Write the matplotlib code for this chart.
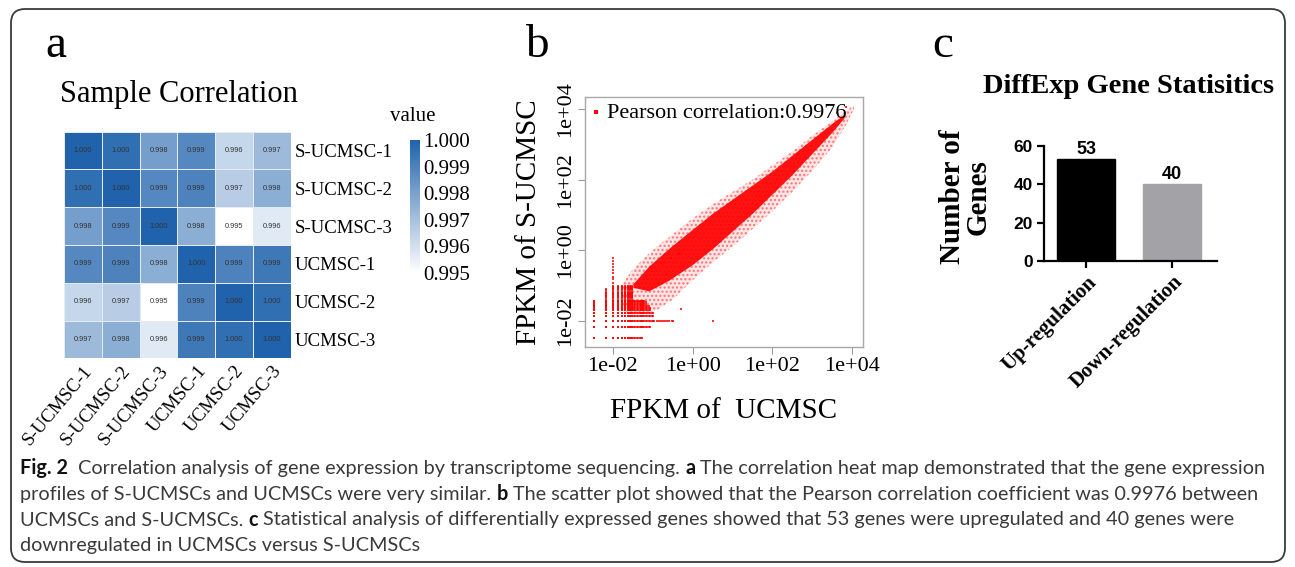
import numpy as np
import matplotlib
matplotlib.use('Agg')
import matplotlib.pyplot as plt
from matplotlib.colors import LinearSegmentedColormap
from matplotlib.patches import FancyBboxPatch
from matplotlib.ticker import FixedLocator, NullLocator
from matplotlib.transforms import ScaledTranslation

W, H = 1295, 567
SERIF = 'Liberation Serif'
SANS = 'Liberation Sans'
CAP_FONT = 'Lato'

#%% data -- panel a (sample correlation)
samples = ['S-UCMSC-1', 'S-UCMSC-2', 'S-UCMSC-3', 'UCMSC-1', 'UCMSC-2', 'UCMSC-3']
corr = np.array([
    [1.0000, 0.9996, 0.9981, 0.9988, 0.9963, 0.9972],
    [0.9996, 1.0000, 0.9988, 0.9990, 0.9966, 0.9976],
    [0.9981, 0.9988, 1.0000, 0.9976, 0.9950, 0.9957],
    [0.9988, 0.9990, 0.9976, 1.0000, 0.9990, 0.9993],
    [0.9963, 0.9966, 0.9950, 0.9990, 1.0000, 0.9996],
    [0.9972, 0.9976, 0.9957, 0.9993, 0.9996, 1.0000],
])
cbar_ticks = [0.995, 0.996, 0.997, 0.998, 0.999, 1.000]

#%% data -- panel b (FPKM scatter)
pearson_r = 0.9976
# quantised low FPKM values seen as the grid in the lower left corner
fpkm_levels = [0.0033, 0.0067, 0.01, 0.0133, 0.0167, 0.02, 0.0233, 0.0267, 0.03,
               0.0333, 0.0367, 0.04, 0.0433, 0.0467, 0.05, 0.0533, 0.0567, 0.06,
               0.0667, 0.0733, 0.08, 0.0867, 0.0933, 0.1]
# (row level on S-UCMSC, farthest UCMSC value on that row)
row_reach = [(0.0033, 0.056), (0.0067, 0.089), (0.01, 0.1), (0.0133, 0.1),
             (0.0167, 0.1), (0.02, 0.093), (0.0233, 0.087), (0.0267, 0.08),
             (0.03, 0.073), (0.0333, 0.067), (0.0367, 0.06)]
# (column level on UCMSC, highest S-UCMSC value in that column)
col_reach = [(0.0033, 0.039), (0.0067, 0.08), (0.01, 0.1), (0.0133, 0.1),
             (0.0167, 0.1), (0.02, 0.1), (0.0233, 0.1), (0.0267, 0.1), (0.03, 0.1)]
row001_tail = [0.11, 0.125, 0.14, 0.16, 0.18, 0.2, 0.23, 0.26, 0.3, 0.33]
col001_tail = [0.12, 0.15, 0.18, 0.22, 0.27, 0.33, 0.4, 0.5, 0.6]
outlier_x = [3.16, 0.52, 6900, 4200, 0.45, 0.28]
outlier_y = [0.01, 0.021, 11500, 7500, 0.8, 0.6]
# envelope of the point cloud, log10 units
fringe_x = [-1.8, -1.5, -1.2, -0.9, -0.5, 0.0, 0.5, 1.0, 1.5, 2.0, 2.5, 3.0, 3.5, 3.85, 4.05]
fringe_hi = [-1.0, -0.55, -0.2, 0.1, 0.45, 0.9, 1.3, 1.65, 2.0, 2.4, 2.8, 3.25, 3.65, 3.95, 4.1]
fringe_lo = [-1.7, -1.8, -1.8, -1.7, -1.4, -0.85, -0.35, 0.1, 0.6, 1.1, 1.65, 2.25, 2.9, 3.55, 4.0]
core_x = [-1.5, -1.1, -0.6, 0.0, 0.5, 1.0, 1.5, 2.0, 2.5, 3.0, 3.5, 3.8]
core_hi = [-0.95, -0.45, 0.05, 0.6, 1.05, 1.45, 1.85, 2.25, 2.7, 3.15, 3.6, 3.85]
core_lo = [-1.05, -1.15, -0.85, -0.4, 0.05, 0.55, 1.05, 1.6, 2.15, 2.75, 3.35, 3.75]
log_ticks = [-2, 0, 2, 4]
log_ticklabels = ['1e-02', '1e+00', '1e+02', '1e+04']

#%% data -- panel c (DEG counts)
groups = ['Up-regulation', 'Down-regulation']
counts = [53, 40]
bar_colors = ['#000000', '#a3a3a7']

caption = [
    [('Fig. 2', 'bold'), ('Correlation analysis of gene expression by transcriptome sequencing.', 'normal'),
     ('a', 'bold'), ('The correlation heat map demonstrated that the gene expression', 'normal')],
    [('profiles of S-UCMSCs and UCMSCs were very similar.', 'normal'), ('b', 'bold'),
     ('The scatter plot showed that the Pearson correlation coefficient was 0.9976 between', 'normal')],
    [('UCMSCs and S-UCMSCs.', 'normal'), ('c', 'bold'),
     ('Statistical analysis of differentially expressed genes showed that 53 genes were upregulated and 40 genes were', 'normal')],
    [('downregulated in UCMSCs versus S-UCMSCs', 'normal')],
]


def fbox(left, top, right, bottom):
    return [left / W, 1 - bottom / H, (right - left) / W, (bottom - top) / H]


fig = plt.figure(figsize=(W / 100, H / 100), dpi=100)
fig.patch.set_facecolor('white')

border = FancyBboxPatch((11 / W, 1 - 562 / H), 1274 / W, 553 / H,
                        boxstyle='round,pad=0,rounding_size=%f' % (14 / W),
                        mutation_aspect=W / H, transform=fig.transFigure,
                        fill=False, ec='#3a3a3a', lw=1.3)
fig.patches.append(border)

# panel letters
for letter, xp in [('a', 45), ('b', 525), ('c', 932)]:
    fig.text(xp / W, 1 - 57 / H, letter, family=SERIF, fontsize=34, va='baseline')

#%% panel a
fig.text(60 / W, 1 - 102 / H, 'Sample Correlation', family=SERIF, fontsize=22, va='baseline')
cmap = LinearSegmentedColormap.from_list('wb', ['#ffffff', '#2063ac'])
ax1 = fig.add_axes(fbox(64.3, 131.7, 290.7, 358.3))
mesh = ax1.pcolormesh(corr, cmap=cmap, vmin=0.995, vmax=1.0, edgecolors='#e4ebf3', linewidth=0.6)
ax1.set_xlim(0, 6)
ax1.set_ylim(6, 0)
for i in range(len(samples)):
    for j in range(len(samples)):
        ax1.text(j + 0.5, i + 0.5, '%.3f' % corr[i, j], ha='center', va='center',
                 fontsize=5.3, family=SANS, color='#333333')
ax1.set_xticks(np.arange(len(samples)) + 0.5)
ax1.set_xticklabels(samples, rotation=50, ha='right', rotation_mode='anchor', family=SERIF, fontsize=13.5)
shift = ScaledTranslation(0.05, 0, fig.dpi_scale_trans)
for lab in ax1.get_xticklabels():
    lab.set_transform(lab.get_transform() + shift)
ax1.set_yticks(np.arange(len(samples)) + 0.5)
ax1.set_yticklabels(samples, family=SERIF, fontsize=13.5)
ax1.yaxis.tick_right()
ax1.tick_params(length=0, pad=3)
for s in ax1.spines.values():
    s.set_visible(False)

cax = fig.add_axes(fbox(410, 140, 420, 273))
cb = fig.colorbar(mesh, cax=cax, ticks=cbar_ticks)
cb.outline.set_visible(False)
cb.ax.set_yticklabels(['%.3f' % t for t in cbar_ticks], family=SERIF, fontsize=15)
cb.ax.tick_params(length=0, pad=2)
fig.text(413 / W, 1 - 121 / H, 'value', family=SERIF, fontsize=15, ha='center', va='baseline')

#%% panel b
ax2 = fig.add_axes(fbox(585, 97, 863, 347))
ax2.set_xscale('log')
ax2.set_yscale('log')
red = '#ff0000'
plt.rcParams['hatch.linewidth'] = 1.1
ax2.fill_between(10 ** np.array(fringe_x), 10 ** np.array(fringe_lo), 10 ** np.array(fringe_hi),
                 facecolor=(1, 0, 0, 0.1), edgecolor=(1, 0, 0, 0.45), hatch='....', lw=0)
ax2.fill_between(10 ** np.array(core_x), 10 ** np.array(core_lo), 10 ** np.array(core_hi),
                 color=red, alpha=0.92, lw=0)

gx, gy = [], []
for yl, reach in row_reach:
    for xl in fpkm_levels:
        if xl <= reach:
            gx.append(xl)
            gy.append(yl)
for xl, reach in col_reach:
    for yl in fpkm_levels:
        if yl <= reach:
            gx.append(xl)
            gy.append(yl)
gx += row001_tail
gy += [0.01] * len(row001_tail)
gx += [0.01] * len(col001_tail)
gy += col001_tail
gx += outlier_x
gy += outlier_y
ax2.scatter(gx, gy, s=2.2, marker='s', color=red, alpha=0.8, lw=0,
            label='Pearson correlation:%.4f' % pearson_r)

ax2.set_xlim(10 ** -2.7, 10 ** 4.275)
ax2.set_ylim(10 ** -2.74, 10 ** 4.34)
ax2.xaxis.set_major_locator(FixedLocator([10.0 ** t for t in log_ticks]))
ax2.yaxis.set_major_locator(FixedLocator([10.0 ** t for t in log_ticks]))
ax2.xaxis.set_minor_locator(NullLocator())
ax2.yaxis.set_minor_locator(NullLocator())
ax2.set_xticklabels(log_ticklabels, family=SERIF, fontsize=16)
ax2.set_yticklabels(log_ticklabels, family=SERIF, fontsize=16, rotation=90, va='center')
ax2.tick_params(length=5, color='#9a9a9a', pad=2)
for s in ax2.spines.values():
    s.set_color('#a8a8a8')
    s.set_linewidth(1.0)
ax2.set_xlabel('FPKM of  UCMSC', family=SERIF, fontsize=21, labelpad=16)
ax2.set_ylabel('FPKM of S-UCMSC', family=SERIF, fontsize=21, labelpad=10)
leg = ax2.legend(loc='upper left', frameon=False, prop={'family': SERIF, 'size': 16},
                 handlelength=0.5, handletextpad=0.25, borderaxespad=0.05, borderpad=0.2,
                 markerscale=1.5)
for lh in leg.legend_handles:
    lh.set_alpha(1)

#%% panel c
fig.text(1129 / W, 1 - 93 / H, 'DiffExp Gene Statisitics', family=SERIF, fontsize=20.5,
         fontweight='bold', ha='center', va='baseline')
ax3 = fig.add_axes(fbox(1044, 146, 1217, 261))
xpos = np.arange(len(groups))
ax3.bar(xpos, counts, width=0.67, color=bar_colors, edgecolor=bar_colors, lw=1)
for xi, v in zip(xpos, counts):
    ax3.annotate(str(v), (xi, v), xytext=(0, 1), textcoords='offset points', ha='center',
                 va='bottom', family=SANS, fontweight='bold', fontsize=13)
ax3.set_xlim(-0.49, 1.52)
ax3.set_ylim(0, 60)
ax3.set_yticks([0, 20, 40, 60])
ax3.set_yticklabels(['0', '20', '40', '60'], family=SANS, fontweight='bold', fontsize=12.5)
ax3.set_xticks(xpos)
ax3.set_xticklabels(groups, rotation=45, ha='right', rotation_mode='anchor', family=SERIF,
                    fontweight='bold', fontsize=15)
ax3.tick_params(width=1.6, length=5, pad=3)
for side in ['top', 'right']:
    ax3.spines[side].set_visible(False)
for side in ['left', 'bottom']:
    ax3.spines[side].set_linewidth(1.6)
ax3.set_ylabel('Number of\nGenes', family=SERIF, fontweight='bold', fontsize=21,
               linespacing=0.95, labelpad=10)
ax3.yaxis.set_label_coords(-0.3, 0.56)

#%% caption
fig.canvas.draw()
renderer = fig.canvas.get_renderer()


def measure(txt, size, wt='normal'):
    t = fig.text(0, 0, txt, family=CAP_FONT, fontweight=wt, fontsize=size)
    w = t.get_window_extent(renderer).width
    t.remove()
    return w


def line_width(runs, size):
    space = measure('x x', size) - measure('xx', size)
    total = sum(measure(txt, size, wt) for txt, wt in runs)
    return total + space * len(runs), space


w0, _ = line_width(caption[0], 12)
cap_size = 12 * (1262 - 20) / w0
baselines = [474, 500, 525.5, 551]
for row, runs in enumerate(caption):
    _, space = line_width(runs, cap_size)
    x = 20
    for txt, wt in runs:
        t = fig.text(x / W, 1 - baselines[row] / H, txt, family=CAP_FONT, fontweight=wt,
                     fontsize=cap_size, va='baseline',
                     color='#111111' if wt == 'bold' else '#3a3a3a')
        x += t.get_window_extent(renderer).width + space * (2 if txt == 'Fig. 2' else 1)

fig.savefig('out.png', dpi=100)
